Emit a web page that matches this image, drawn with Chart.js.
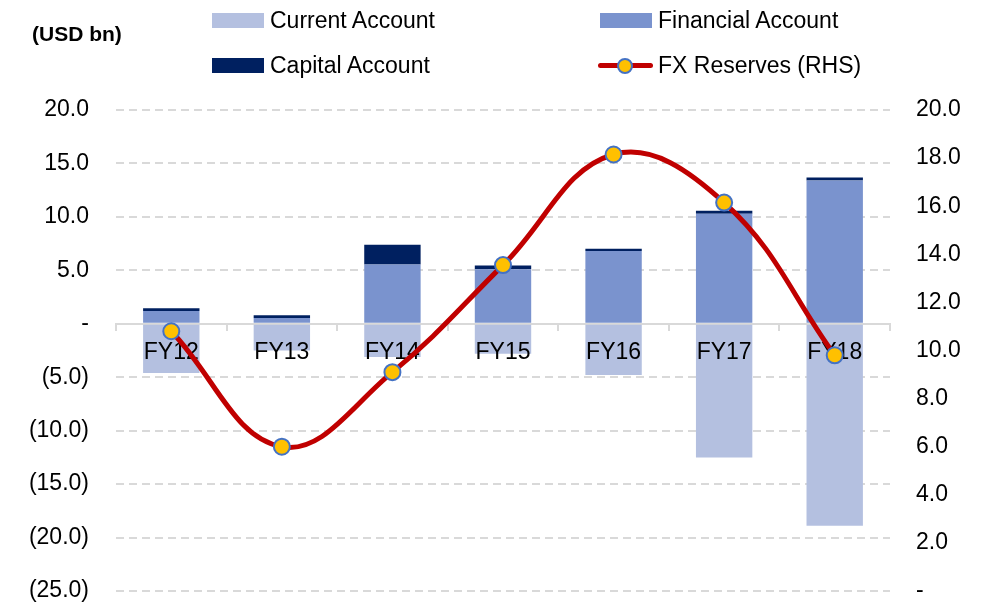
<!DOCTYPE html>
<html><head><meta charset="utf-8">
<script src="https://cdn.jsdelivr.net/npm/chart.js@4.4.1/dist/chart.umd.min.js"></script>
<style>
html,body{margin:0;padding:0;background:#fff;}
#wrap{position:relative;width:988px;height:605px;font-family:"Liberation Sans",Arial,sans-serif;}
#c{position:absolute;left:0;top:0;}
.unit{position:absolute;left:32px;top:21px;font-weight:bold;font-size:21px;line-height:25px;color:#000;}
.lg{position:absolute;font-size:23px;color:#000;line-height:26px;white-space:nowrap;}
.sw{position:absolute;width:52px;height:15px;}
</style></head>
<body>
<div id="wrap"><canvas id="c" width="988" height="605"></canvas>
<div class="unit">(USD bn)</div>
<div id="legend"></div>
</div>
<script>
const categories = ["FY12","FY13","FY14","FY15","FY16","FY17","FY18"];
const currentAccount = [-4.6, -2.5, -3.1, -2.8, -4.8, -12.5, -18.9];
const financialAccount = [1.2, 0.55, 5.55, 5.1, 6.8, 10.3, 13.4];
const capitalAccount = [0.25, 0.25, 1.85, 0.35, 0.22, 0.28, 0.28];
const fxReserves = [10.8, 6.0, 9.1, 13.55, 18.15, 16.15, 9.8];
const seriesNames = ["Current Account","Financial Account","Capital Account","FX Reserves (RHS)"];
const leftTicks = [20, 15, 10, 5, 0, -5, -10, -15, -20, -25];
const rightTicks = [20, 18, 16, 14, 12, 10, 8, 6, 4, 2, 0];

const colors = {cur:"#b4c0e0", fin:"#7a93ce", cap:"#002060", line:"#c00000", pt:"#ffc000", ptb:"#4472c4"};
const FONT = "'Liberation Sans', Arial, sans-serif";

function fmt(v){
  if (Math.abs(v) < 1e-9) return "-";
  if (v < 0) return "(" + Math.abs(v).toFixed(1) + ")";
  return v.toFixed(1);
}

const xLabelPlugin = {
  id: "xLabels",
  beforeDatasetDraw(chart, args) {
    if (args.index !== 3) return;
    const ctx = chart.ctx, xs = chart.scales.x, ys = chart.scales.y;
    const y0 = ys.getPixelForValue(0);
    ctx.save();
    ctx.font = "23px " + FONT;
    ctx.fillStyle = "#000";
    ctx.textAlign = "center";
    ctx.textBaseline = "middle";
    categories.forEach((c, i) => ctx.fillText(c, xs.getPixelForValue(i), y0 + 29));
    ctx.restore();
  }
};

function fixV(w){ return function(s){ s.width = w; s.paddingTop = 0; s.paddingBottom = 0; }; }

const chart = new Chart(document.getElementById("c"), {
  data: {
    labels: categories,
    datasets: [
      {type:"bar", label:seriesNames[0], data:currentAccount, backgroundColor:colors.cur, yAxisID:"y", stack:"s", order:2},
      {type:"bar", label:seriesNames[1], data:financialAccount, backgroundColor:colors.fin, yAxisID:"y", stack:"s", order:2},
      {type:"bar", label:seriesNames[2], data:capitalAccount, backgroundColor:colors.cap, yAxisID:"y", stack:"s", order:2},
      {type:"line", label:seriesNames[3], data:fxReserves, yAxisID:"y1", borderColor:colors.line, borderWidth:5,
       tension:0.4, pointRadius:8, pointHoverRadius:8, pointBackgroundColor:colors.pt, pointBorderColor:colors.ptb,
       pointBorderWidth:2, order:1}
    ]
  },
  options: {
    responsive:false, animation:false,
    layout:{padding:{top:110, bottom:14, left:0, right:0}},
    plugins:{legend:{display:false}, tooltip:{enabled:false}},
    datasets:{bar:{barPercentage:0.51, categoryPercentage:1}},
    scales:{
      x:{
        type:"category", position:{y:0}, offset:true, stacked:true,
        afterFit(s){ s.height = 0; s.paddingLeft = 0; s.paddingRight = 0; },
        grid:{display:true, drawOnChartArea:false, drawTicks:true, tickLength:6, offset:true, color:"#d9d9d9", lineWidth:2},
        border:{display:true, color:"#d9d9d9", width:2},
        ticks:{display:false}
      },
      y:{
        position:"left", stacked:true, min:-25, max:20,
        afterBuildTicks(s){ s.ticks = leftTicks.map(v=>({value:v})); },
        afterFit: fixV(116),
        grid:{color:(c)=> c.tick && c.tick.value===0 ? "rgba(0,0,0,0)" : "#d9d9d9", lineWidth:2, drawTicks:false},
        border:{display:false, dash:[8,5]},
        ticks:{font:{size:23, family:FONT}, color:"#000", padding:27, callback:(v)=>fmt(v)}
      },
      y1:{
        position:"right", min:0, max:20,
        afterBuildTicks(s){ s.ticks = rightTicks.map(v=>({value:v})); },
        afterFit: fixV(98),
        grid:{display:false, drawTicks:false},
        border:{display:false},
        ticks:{font:{size:23, family:FONT}, color:"#000", padding:26, callback:(v)=>fmt(v)}
      }
    }
  },
  plugins:[xLabelPlugin]
});

const lg = document.getElementById("legend");
const items = [
  {i:0, x:212, y:13, kind:"box", color:colors.cur},
  {i:1, x:600, y:13, kind:"box", color:colors.fin},
  {i:2, x:212, y:58, kind:"box", color:colors.cap},
  {i:3, x:598, y:58, kind:"line"}
];
items.forEach(it=>{
  if (it.kind === "box") {
    const s = document.createElement("div"); s.className="sw";
    s.style.left = it.x+"px"; s.style.top = it.y+"px"; s.style.background = it.color;
    lg.appendChild(s);
  } else {
    const l = document.createElement("div");
    l.style.cssText = "position:absolute;left:"+it.x+"px;top:"+(it.y+5)+"px;width:55px;height:5px;border-radius:3px;background:"+colors.line;
    lg.appendChild(l);
    const d = document.createElement("div");
    d.style.cssText = "position:absolute;left:"+(it.x+19)+"px;top:"+(it.y)+"px;width:16px;height:16px;border-radius:50%;box-sizing:border-box;border:2px solid "+colors.ptb+";background:"+colors.pt;
    lg.appendChild(d);
  }
  const t = document.createElement("div"); t.className="lg";
  t.style.left = (it.x + (it.kind==="box"?58:60))+"px"; t.style.top = (it.y-6)+"px";
  t.textContent = chart.data.datasets[it.i].label;
  lg.appendChild(t);
});
</script>
</body></html>
